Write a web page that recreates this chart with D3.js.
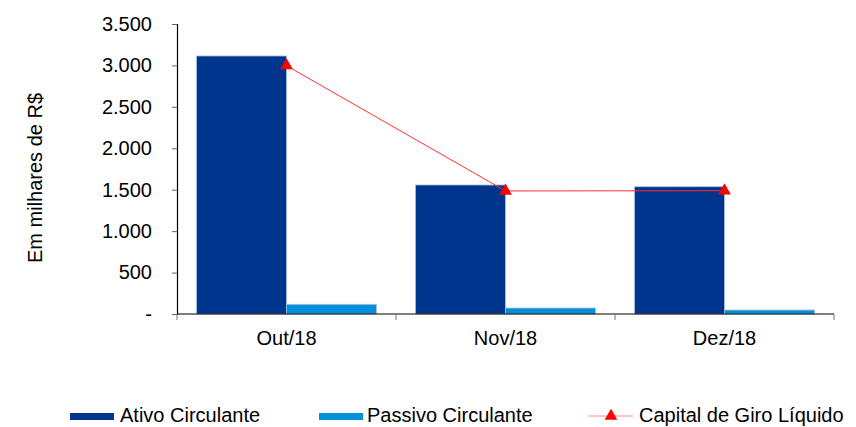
<!DOCTYPE html>
<html>
<head>
<meta charset="utf-8">
<script src="https://cdn.jsdelivr.net/npm/d3@7"></script>
<style>
  body { margin: 0; background: #fff; }
  svg text { font-family: "Liberation Sans", Arial, sans-serif; fill: #000; }
</style>
</head>
<body>
<div id="chart"></div>
<script>
// dados do gráfico (em milhares de R$)
var categorias = ["Out/18", "Nov/18", "Dez/18"];
var series = ["Ativo Circulante", "Passivo Circulante"];
var ativo = [3114, 1557, 1536];
var passivo = [117, 72, 48];
var capitalGiro = [2997, 1485, 1488];
var yTicks = [0, 500, 1000, 1500, 2000, 2500, 3000, 3500];

var cores = {
    "Ativo Circulante": "#00358d",
    "Passivo Circulante": "#0091da",
    "Capital de Giro Líquido": "#ff0000"
};

var largura = 856, altura = 427;
var mEsq = 177, mDir = 834, mTopo = 24, mBase = 314;

var svg = d3.select("#chart")
    .append("svg")
    .attr("width", largura)
    .attr("height", altura);

var x0 = d3.scaleBand().domain(categorias).range([mEsq, mDir]).padding(0);
var x1 = d3.scaleBand().domain(series).range([0, x0.bandwidth()])
    .paddingInner(0).paddingOuter(0.2167);
var y = d3.scaleLinear().domain([0, 3500]).range([mBase, mTopo]);

function fmt(v) {
    if (v === 0) return "-";
    return d3.format(",")(v).replace(/,/g, ".");
}

// barras
var valores = { "Ativo Circulante": ativo, "Passivo Circulante": passivo };
series.forEach(function (s) {
    svg.append("g")
        .selectAll("rect")
        .data(valores[s])
        .enter()
        .append("rect")
        .attr("x", function (d, i) { return x0(categorias[i]) + x1(s); })
        .attr("y", function (d) { return y(d); })
        .attr("width", x1.bandwidth())
        .attr("height", function (d) { return y(0) - y(d); })
        .attr("fill", cores[s])
        .attr("stroke", "#a9c0e0")
        .attr("stroke-width", 0.8);
});

// eixo y
var yAxis = svg.append("g")
    .attr("transform", "translate(" + mEsq + ",0)")
    .call(d3.axisLeft(y).tickValues(yTicks).tickFormat(fmt).tickSize(5).tickPadding(20));
yAxis.select(".domain").attr("stroke", "#000").attr("stroke-width", 1.2);
yAxis.selectAll(".tick line").attr("stroke", "#666");
yAxis.selectAll("text").style("font-size", "20px").attr("fill", "#000");

// eixo x
var xAxis = svg.append("g")
    .attr("transform", "translate(0," + mBase + ")")
    .call(d3.axisBottom(x0).tickSize(0).tickPadding(0));
xAxis.select(".domain").remove();
xAxis.selectAll("text").style("font-size", "20px").attr("fill", "#000").attr("dy", 31);
svg.append("line")
    .attr("x1", mEsq).attr("x2", mDir)
    .attr("y1", mBase).attr("y2", mBase)
    .attr("stroke", "#000").attr("stroke-width", 1.2);
var limites = categorias.map(function (c) { return x0(c); }).concat([mDir]);
svg.append("g").selectAll("line")
    .data(limites)
    .enter()
    .append("line")
    .attr("x1", function (d) { return d; }).attr("x2", function (d) { return d; })
    .attr("y1", mBase).attr("y2", mBase + 6)
    .attr("stroke", "#777");

// linha do capital de giro
var cx = function (d, i) { return x0(categorias[i]) + x0.bandwidth() / 2; };
var linha = d3.line().x(cx).y(function (d) { return y(d); });
svg.append("path")
    .datum(capitalGiro)
    .attr("d", linha)
    .attr("fill", "none")
    .attr("stroke", "#ff3030")
    .attr("stroke-width", 1);

var tri = d3.symbol().type(d3.symbolTriangle).size(70);
svg.append("g").selectAll("path")
    .data(capitalGiro)
    .enter()
    .append("path")
    .attr("d", tri)
    .attr("transform", function (d, i) { return "translate(" + cx(d, i) + "," + y(d) + ")"; })
    .attr("fill", cores["Capital de Giro Líquido"]);

// título do eixo y
svg.append("text")
    .attr("transform", "translate(42,178) rotate(-90)")
    .attr("text-anchor", "middle")
    .style("font-size", "20px")
    .text("Em milhares de R$");

// legenda
var leg = svg.append("g");
leg.append("rect").attr("x", 70).attr("y", 413).attr("width", 44).attr("height", 7)
    .attr("fill", cores["Ativo Circulante"]);
leg.append("text").attr("x", 120).attr("y", 422).style("font-size", "20px").text("Ativo Circulante");
leg.append("rect").attr("x", 319).attr("y", 413).attr("width", 44).attr("height", 7)
    .attr("fill", cores["Passivo Circulante"]);
leg.append("text").attr("x", 367).attr("y", 422).style("font-size", "20px").text("Passivo Circulante");
leg.append("line").attr("x1", 588).attr("x2", 633).attr("y1", 416).attr("y2", 416)
    .attr("stroke", "#ff9090").attr("stroke-width", 1);
leg.append("path").attr("d", tri).attr("transform", "translate(611,416)")
    .attr("fill", cores["Capital de Giro Líquido"]);
leg.append("text").attr("x", 639).attr("y", 422).style("font-size", "20px").text("Capital de Giro Líquido");
</script>
</body>
</html>
